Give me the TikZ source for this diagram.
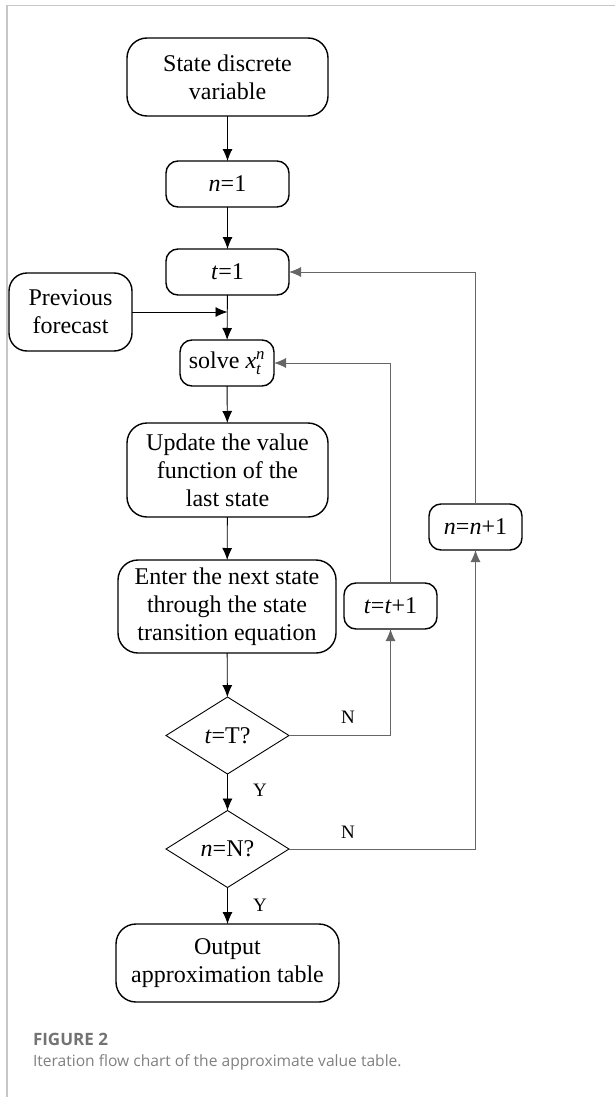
\documentclass[tikz,border=0pt]{standalone}
\usepackage{amsmath}
\usepackage{fontspec}
\setmainfont{Liberation Serif}
\newfontfamily\capfont{Open Sans}
\usetikzlibrary{arrows.meta,shapes.geometric}

\begin{document}
\begin{tikzpicture}[x=1pt,y=-1pt]
\tikzset{ >={Latex[length=12pt,width=10pt]}, inner sep=0pt, outer sep=0pt,
  box/.style={draw, line width=1.4pt, rounded corners=#1, align=center,
    font=\fontsize{24}{28}\selectfont},
  box/.default=12pt,
  decide/.style={draw, diamond, line width=0.9pt, minimum width=123pt,
    minimum height=77pt, font=\fontsize{24}{28}\selectfont},
  flow/.style={->, line width=0.9pt},
  back/.style={->, line width=1pt, black!60},
  yn/.style={font=\fontsize{19}{22}\selectfont},
}

\useasboundingbox (0,0) rectangle (615,1097);
\draw [black!22, line width=1.5pt] (7,1097) -- (7,5.5) -- (615,5.5);

% main column
\node [box=20pt, minimum width=201pt, minimum height=78pt] (SDV) at (227.5,77) {State discrete\\variable};
\node [box, minimum width=123pt, minimum height=46pt] (N1) at (227.5,184) {\textit{n}=1};
\node [box, minimum width=123pt, minimum height=46pt] (T1) at (227.5,272) {\textit{t}=1};
\node [box=18pt, minimum width=123pt, minimum height=78pt] (PF) at (70.5,312) {Previous\\forecast};
\node [box, minimum width=94pt, minimum height=46pt] (SX) at (227,363) {solve \textit{x}$_{\textit{t}}^{\textit{n}}$};
\node [box=20pt, minimum width=201pt, minimum height=94pt] (UV) at (227.5,470) {Update the value\\function of the\\last state};
\node [box=20pt, minimum width=218pt, minimum height=93pt] (ES) at (227,606.5) {Enter the next state\\through the state\\transition equation};
\node [decide] (TT) at (227.5,735.5) {\textit{t}=T?};
\node [decide] (NN) at (227.5,849) {\textit{n}=N?};
\node [box=20pt, minimum width=223pt, minimum height=78pt] (OUT) at (227.5,963) {Output\\approximation table};

% loop counters
\node [box, minimum width=93pt, minimum height=46pt] (TI) at (390.5,606) {\textit{t}=\textit{t}+1};
\node [box, minimum width=93pt, minimum height=46pt] (NI) at (475.5,527) {\textit{n}=\textit{n}+1};

\coordinate (J) at (227.5,312);

\draw [flow] (SDV) -- (N1);
\draw [flow] (N1)  -- (T1);
\draw [flow] (T1)  -- (SX);
\draw [flow] (PF.east |- J) -- (J);
\draw [flow] (SX)  -- (UV);
\draw [flow] (UV)  -- (ES);
\draw [flow] (ES)  -- (TT);
\draw [flow] (TT)  -- (NN);
\draw [flow] (NN)  -- (OUT);

\draw [back] (TT.east) -| (TI.south);
\draw [back] (TI.north) |- (SX.east);
\draw [back] (NN.east) -| (NI.south);
\draw [back] (NI.north) |- (T1.east);

\node [yn] (N1L) at (348,717) {N};
\node [yn] (N2L) at (348,832) {N};
\node [yn] (Y1L) at (260,790) {Y};
\node [yn] (Y2L) at (260,905) {Y};

% caption
\node [anchor=base west, font=\capfont\bfseries\fontsize{17}{20}\selectfont, text=black!55] (CAPT) at (33,1045) {FIGURE 2};
\node [anchor=base west, font=\capfont\fontsize{15.6}{18}\selectfont, text=black!50] (CAPB) at (33,1066) {Iteration flow chart of the approximate value table.};
\end{tikzpicture}
\end{document}
